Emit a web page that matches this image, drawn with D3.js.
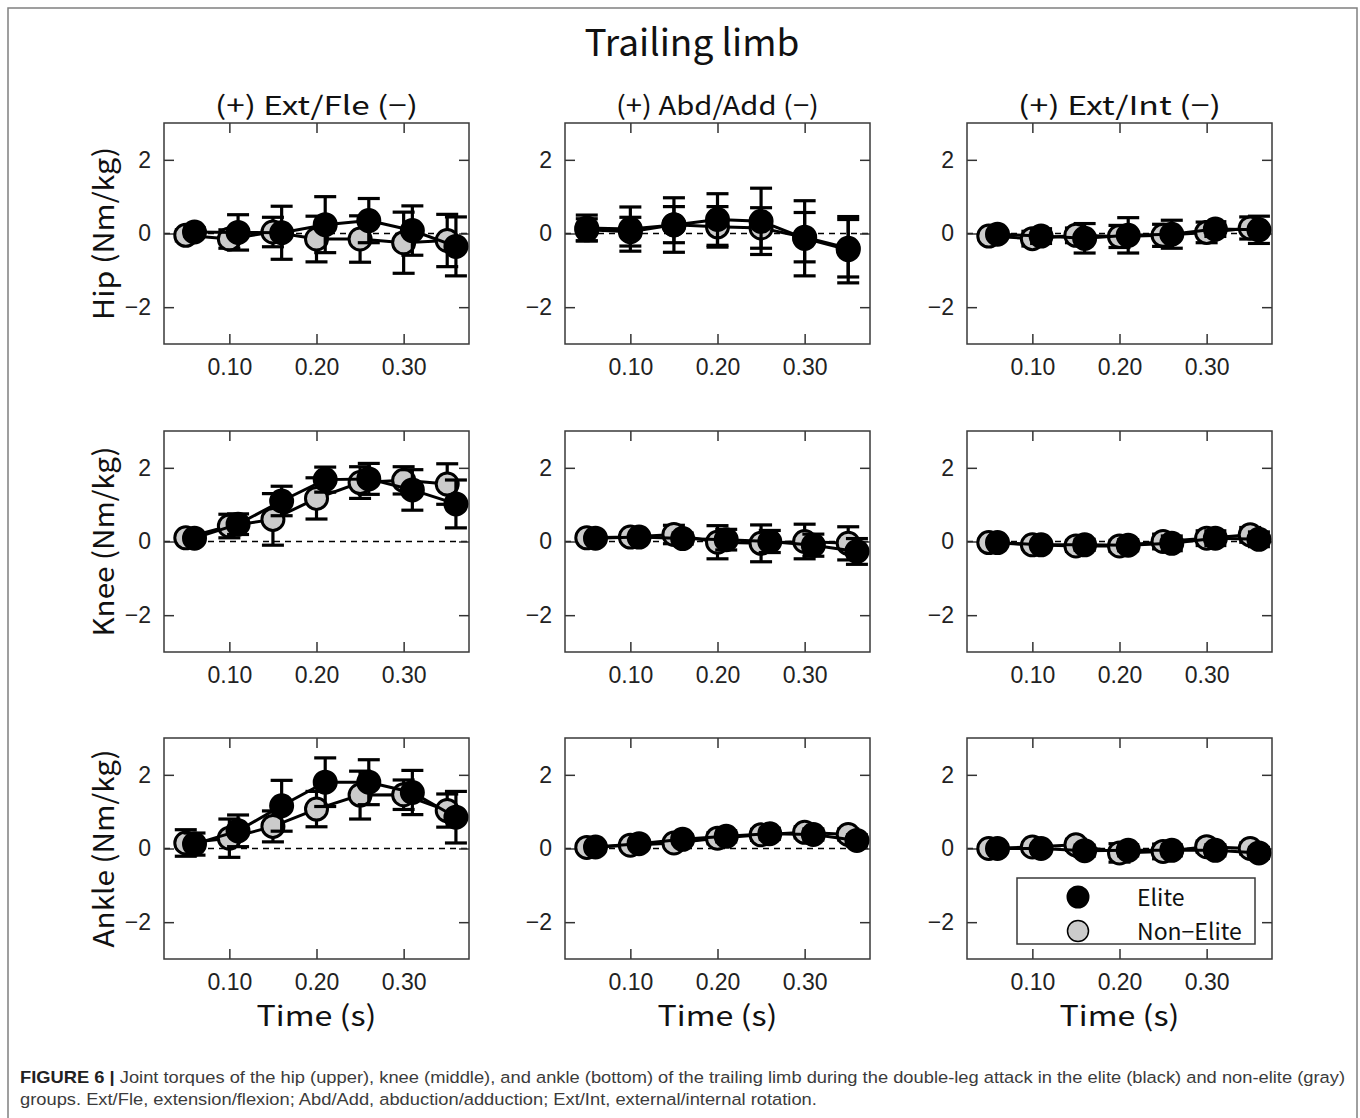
<!DOCTYPE html>
<html>
<head>
<meta charset="utf-8">
<title>Trailing limb</title>
<script src="https://d3js.org/d3.v7.min.js"></script>
<style>
  body { margin: 0; background: #fff; }
  svg { display: block; }
  .jp { font-family: "Noto Sans CJK JP", "Noto Sans", sans-serif; fill: #111; }
  .tick text { font-family: "Liberation Sans", Arial, sans-serif; font-size: 23px; fill: #222; }
  .tick line { stroke: #333; stroke-width: 1.5; }
  .caption { font-family: "Liberation Sans", Arial, sans-serif; font-size: 16.5px; fill: #3b3b3b; }
</style>
</head>
<body>
<svg id="chart" width="1360" height="1118"></svg>
<script>
const figureTitle = "Trailing limb";
const joints = ["Hip", "Knee", "Ankle"];
const components = ["(+) Ext/Fle (−)", "(+) Abd/Add (−)", "(+) Ext/Int (−)"];
const groups = ["Elite", "Non−Elite"];
const xTicks = [0.10, 0.20, 0.30];
const yTicks = [-2, 0, 2];
const times = [0.05, 0.10, 0.15, 0.20, 0.25, 0.30, 0.35];
// elite points are nudged right of the non-elite ones (except Hip Abd/Add)
const eliteShift = [[0.01, 0, 0.01], [0.01, 0.01, 0.01], [0.01, 0.01, 0.01]];

// Hip
const hipExtFleElite = [0.04, 0.03, 0.02, 0.24, 0.35, 0.08, -0.35];
const hipExtFleEliteSD = [0.12, 0.48, 0.72, 0.76, 0.60, 0.67, 0.80];
const hipExtFleNon = [-0.05, -0.15, 0.04, -0.15, -0.15, -0.25, -0.19];
const hipExtFleNonSD = [0.15, 0.25, 0.40, 0.62, 0.63, 0.83, 0.71];
const hipAbdAddElite = [0.15, 0.12, 0.23, 0.38, 0.33, -0.13, -0.44];
const hipAbdAddEliteSD = [0.35, 0.60, 0.74, 0.70, 0.90, 1.02, 0.90];
const hipAbdAddNon = [0.10, 0.05, 0.24, 0.18, 0.15, -0.10, -0.40];
const hipAbdAddNonSD = [0.30, 0.39, 0.49, 0.55, 0.55, 0.67, 0.78];
const hipExtIntElite = [-0.02, -0.07, -0.13, -0.05, -0.02, 0.12, 0.10];
const hipExtIntEliteSD = [0.10, 0.20, 0.40, 0.48, 0.38, 0.20, 0.37];
const hipExtIntNon = [-0.07, -0.14, -0.05, -0.08, -0.05, 0.03, 0.15];
const hipExtIntNonSD = [0.10, 0.20, 0.20, 0.30, 0.30, 0.28, 0.30];

// Knee
const kneeExtFleElite = [0.09, 0.47, 1.10, 1.68, 1.70, 1.40, 1.02];
const kneeExtFleEliteSD = [0.10, 0.28, 0.40, 0.34, 0.42, 0.55, 0.65];
const kneeExtFleNon = [0.10, 0.42, 0.60, 1.17, 1.60, 1.66, 1.56];
const kneeExtFleNonSD = [0.10, 0.32, 0.70, 0.56, 0.43, 0.37, 0.55];
const kneeAbdAddElite = [0.09, 0.12, 0.08, 0.05, 0.00, -0.10, -0.27];
const kneeAbdAddEliteSD = [0.10, 0.12, 0.15, 0.28, 0.30, 0.30, 0.35];
const kneeAbdAddNon = [0.10, 0.12, 0.19, -0.02, -0.05, 0.00, -0.05];
const kneeAbdAddNonSD = [0.10, 0.12, 0.25, 0.45, 0.50, 0.47, 0.45];
const kneeExtIntElite = [-0.03, -0.09, -0.09, -0.10, -0.05, 0.09, 0.06];
const kneeExtIntEliteSD = [0.10, 0.12, 0.15, 0.15, 0.20, 0.20, 0.20];
const kneeExtIntNon = [-0.03, -0.09, -0.12, -0.12, 0.00, 0.09, 0.18];
const kneeExtIntNonSD = [0.10, 0.12, 0.15, 0.15, 0.20, 0.20, 0.20];

// Ankle
const ankleExtFleElite = [0.12, 0.48, 1.16, 1.80, 1.80, 1.52, 0.85];
const ankleExtFleEliteSD = [0.30, 0.43, 0.69, 0.66, 0.61, 0.60, 0.70];
const ankleExtFleNon = [0.15, 0.28, 0.60, 1.07, 1.45, 1.46, 1.03];
const ankleExtFleNonSD = [0.36, 0.52, 0.42, 0.48, 0.65, 0.40, 0.45];
const ankleAbdAddElite = [0.04, 0.13, 0.25, 0.33, 0.40, 0.38, 0.22];
const ankleAbdAddEliteSD = [0.10, 0.12, 0.12, 0.15, 0.15, 0.15, 0.15];
const ankleAbdAddNon = [0.03, 0.09, 0.15, 0.28, 0.37, 0.44, 0.38];
const ankleAbdAddNonSD = [0.10, 0.12, 0.12, 0.15, 0.15, 0.15, 0.15];
const ankleExtIntElite = [0.00, 0.00, -0.06, -0.05, -0.05, -0.05, -0.12];
const ankleExtIntEliteSD = [0.10, 0.12, 0.15, 0.15, 0.15, 0.15, 0.15];
const ankleExtIntNon = [0.00, 0.04, 0.10, -0.12, -0.08, 0.05, 0.00];
const ankleExtIntNonSD = [0.10, 0.12, 0.15, 0.25, 0.20, 0.15, 0.15];

const captionLines = [
  ["FIGURE 6 | ", "Joint torques of the hip (upper), knee (middle), and ankle (bottom) of the trailing limb during the double-leg attack in the elite (black) and non-elite (gray)"],
  ["", "groups. Ext/Fle, extension/flexion; Abd/Add, abduction/adduction; Ext/Int, external/internal rotation."]
];

// rows = joints, cols = components: [eliteMean, eliteSD, nonMean, nonSD]
const panelData = [
  [[hipExtFleElite, hipExtFleEliteSD, hipExtFleNon, hipExtFleNonSD],
   [hipAbdAddElite, hipAbdAddEliteSD, hipAbdAddNon, hipAbdAddNonSD],
   [hipExtIntElite, hipExtIntEliteSD, hipExtIntNon, hipExtIntNonSD]],
  [[kneeExtFleElite, kneeExtFleEliteSD, kneeExtFleNon, kneeExtFleNonSD],
   [kneeAbdAddElite, kneeAbdAddEliteSD, kneeAbdAddNon, kneeAbdAddNonSD],
   [kneeExtIntElite, kneeExtIntEliteSD, kneeExtIntNon, kneeExtIntNonSD]],
  [[ankleExtFleElite, ankleExtFleEliteSD, ankleExtFleNon, ankleExtFleNonSD],
   [ankleAbdAddElite, ankleAbdAddEliteSD, ankleAbdAddNon, ankleAbdAddNonSD],
   [ankleExtIntElite, ankleExtIntEliteSD, ankleExtIntNon, ankleExtIntNonSD]]
];

const colLeft = [164, 565, 967];
const rowTop = [123, 431, 738];
const panelW = 305, panelH = 221;
const greyFill = "#cbcbcb";
const frameColor = "#3a3a3a";
const minus = v => v < 0 ? "−" + Math.abs(v) : String(v);

// widths of the wide Japanese-style labels in the figure
const compTitleWidth = 203;
const yLabelWidth = [173, 190, 198];
const timeLabelWidth = 120;

const svg = d3.select("#chart");

// outer frame
svg.append("rect")
  .attr("x", 8).attr("y", 8)
  .attr("width", 1349).attr("height", 1130)
  .attr("fill", "none").attr("stroke", "#808080").attr("stroke-width", 1.5);

svg.append("text")
  .attr("class", "jp")
  .attr("x", 692).attr("y", 56)
  .attr("text-anchor", "middle")
  .attr("font-size", 37)
  .text(figureTitle);

const x = d3.scaleLinear().domain([0.025, 0.375]).range([0, panelW]);
const y = d3.scaleLinear().domain([-3, 3]).range([panelH, 0]);

function drawSeries(g, xs, means, sds, fill) {
  const pts = xs.map((t, i) => ({ t, m: means[i], s: sds[i] }));
  g.append("path")
    .datum(pts)
    .attr("fill", "none").attr("stroke", "#000").attr("stroke-width", 3)
    .attr("d", d3.line().x(d => x(d.t)).y(d => y(d.m)));

  const eb = g.append("g").attr("stroke", "#000").attr("stroke-width", 3.2);
  pts.forEach(d => {
    const cx = x(d.t), y1 = y(d.m + d.s), y2 = y(d.m - d.s);
    eb.append("line").attr("x1", cx).attr("x2", cx).attr("y1", y1).attr("y2", y2);
    eb.append("line").attr("x1", cx - 11).attr("x2", cx + 11).attr("y1", y1).attr("y2", y1);
    eb.append("line").attr("x1", cx - 11).attr("x2", cx + 11).attr("y1", y2).attr("y2", y2);
  });

  g.append("g").selectAll("circle")
    .data(pts)
    .join("circle")
    .attr("cx", d => x(d.t)).attr("cy", d => y(d.m))
    .attr("r", 11)
    .attr("fill", fill).attr("stroke", "#000").attr("stroke-width", 3);
}

joints.forEach((joint, r) => {
  components.forEach((comp, c) => {
    const g = svg.append("g").attr("transform", `translate(${colLeft[c]},${rowTop[r]})`);
    const [eMean, eSD, nMean, nSD] = panelData[r][c];

    // zero reference
    g.append("line")
      .attr("x1", 0).attr("x2", panelW)
      .attr("y1", y(0)).attr("y2", y(0))
      .attr("stroke", "#000").attr("stroke-width", 1.5)
      .attr("stroke-dasharray", "6,5");

    // axes with inward ticks on all four sides
    g.append("g").attr("transform", `translate(0,${panelH})`)
      .call(d3.axisBottom(x).tickValues(xTicks).tickSize(-10).tickPadding(15)
        .tickFormat(d3.format(".2f")));
    g.append("g")
      .call(d3.axisTop(x).tickValues(xTicks).tickSize(-10).tickFormat(""));
    g.append("g")
      .call(d3.axisLeft(y).tickValues(yTicks).tickSize(-10).tickPadding(13).tickFormat(minus));
    g.append("g").attr("transform", `translate(${panelW},0)`)
      .call(d3.axisRight(y).tickValues(yTicks).tickSize(-10).tickFormat(""));
    g.selectAll(".domain").remove();

    g.append("rect")
      .attr("width", panelW).attr("height", panelH)
      .attr("fill", "none").attr("stroke", frameColor).attr("stroke-width", 1.5);

    drawSeries(g, times, nMean, nSD, greyFill);
    drawSeries(g, times.map(t => t + eliteShift[r][c]), eMean, eSD, "#000");

    if (r === 0) {
      svg.append("text").attr("class", "jp")
        .attr("x", colLeft[c] + panelW / 2).attr("y", 115)
        .attr("text-anchor", "middle").attr("font-size", 26)
        .attr("textLength", compTitleWidth).attr("lengthAdjust", "spacingAndGlyphs")
        .text(comp);
    }
    if (c === 0) {
      svg.append("text").attr("class", "jp")
        .attr("transform", `translate(114,${rowTop[r] + panelH / 2}) rotate(-90)`)
        .attr("text-anchor", "middle").attr("font-size", 28)
        .attr("textLength", yLabelWidth[r]).attr("lengthAdjust", "spacingAndGlyphs")
        .text(`${joint} (Nm/kg)`);
    }
    if (r === joints.length - 1) {
      svg.append("text").attr("class", "jp")
        .attr("x", colLeft[c] + panelW / 2).attr("y", 1026)
        .attr("text-anchor", "middle").attr("font-size", 28)
        .attr("textLength", timeLabelWidth).attr("lengthAdjust", "spacingAndGlyphs")
        .text("Time (s)");
    }
    if (r === 2 && c === 2) {
      const lg = g.append("g").attr("transform", "translate(50,140)");
      lg.append("rect").attr("width", 238).attr("height", 66)
        .attr("fill", "#fff").attr("stroke", frameColor).attr("stroke-width", 1.5);
      groups.forEach((name, i) => {
        lg.append("circle").attr("cx", 61).attr("cy", 19 + i * 34).attr("r", 10.5)
          .attr("fill", i === 0 ? "#000" : greyFill)
          .attr("stroke", "#000").attr("stroke-width", i === 0 ? 2 : 1.5);
        lg.append("text").attr("class", "jp")
          .attr("x", 120).attr("y", 28 + i * 34)
          .attr("font-size", 23)
          .text(name);
      });
    }
  });
});

// caption, stretched horizontally to the frame width
const cap = svg.append("g");
const capText = cap.append("g").attr("class", "caption");
captionLines.forEach((ln, i) => {
  const t = capText.append("text").attr("x", 0).attr("y", 1083 + i * 22);
  if (ln[0]) t.append("tspan").attr("font-weight", "bold").attr("fill", "#222").text(ln[0]);
  t.append("tspan").text(ln[1]);
});
const w1 = capText.select("text").node().getComputedTextLength();
cap.attr("transform", `translate(20,0) scale(${1326 / w1},1)`);
</script>
</body>
</html>
